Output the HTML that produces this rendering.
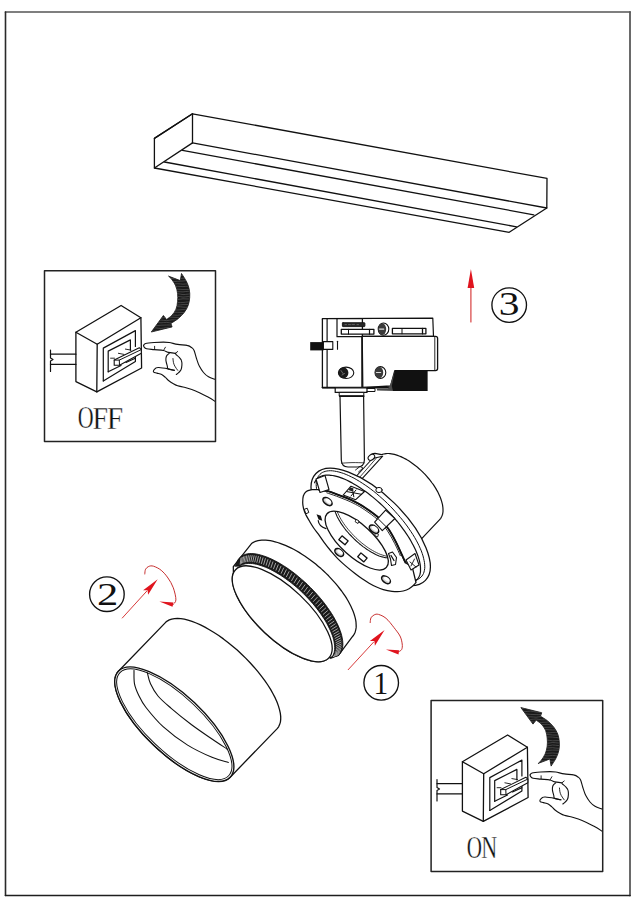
<!DOCTYPE html>
<html><head><meta charset="utf-8"><title>Installation diagram</title>
<style>html,body{margin:0;padding:0;background:#fff;}svg{display:block;}text{font-family:"Liberation Serif",serif;}</style>
</head><body>
<svg width="637" height="905" viewBox="0 0 637 905" stroke-linecap="round" stroke-linejoin="round">
<rect width="637" height="905" fill="#fff"/>
<path d="M5.5,12 H630" stroke="#555" stroke-width="1.7" fill="none"/>
<path d="M630,12 V895.5" stroke="#5a5a5a" stroke-width="1.8" fill="none"/>
<path d="M5.5,12 V895.5" stroke="#2a2a2a" stroke-width="1.6" fill="none"/>
<path d="M5.5,895.5 H630" stroke="#1e1e1e" stroke-width="1.6" fill="none"/>
<path d="M154.4,168.0 L154.4,138.4 L192.5,113.8 L547.0,178.4 L546.8,208.0 L509.2,232.3 L154.4,168.0" stroke="#111" stroke-width="1.3" fill="none" />
<path d="M154.4,138.4 L192.5,113.8" stroke="#111" stroke-width="1.3" fill="none" />
<path d="M192.5,113.8 L192.5,142.9" stroke="#111" stroke-width="1.3" fill="none" />
<path d="M154.4,168.0 L192.5,142.9" stroke="#111" stroke-width="1.3" fill="none" />
<path d="M192.5,142.9 L546.8,208.0" stroke="#111" stroke-width="1.3" fill="none" />
<path d="M182.5,150.4 L533.8,214.8" stroke="#111" stroke-width="1.3" fill="none" />
<path d="M164.5,162.0 L516.5,226.8" stroke="#111" stroke-width="1.3" fill="none" />
<g><path d="M75.9,332.2 L121.1,305.5 L140.9,317.7 L141.6,368.0 L96.8,391.9 L75.9,381.6Z" stroke="#111" stroke-width="1.3" fill="#fff"/><path d="M75.9,332.2 L97.2,344.2 L140.9,317.7" stroke="#111" stroke-width="1.3" fill="none"/><path d="M97.2,344.2 L96.8,391.9" stroke="#111" stroke-width="1.3" fill="none"/><path d="M103.3,380.9 L103.3,348.1 L135.4,330.6 L135.4,346.5" stroke="#111" stroke-width="1.2" fill="none"/><path d="M135.4,354.5 L135.4,361.6 L103.3,380.9" stroke="#111" stroke-width="1.2" fill="none"/><path d="M108.2,371.8 L108.2,351.1 L130.4,339.9 L130.4,350.3" stroke="#111" stroke-width="1.2" fill="none"/><path d="M108.2,371.8 L121.0,365.5" stroke="#111" stroke-width="1.2" fill="none"/><path d="M126.0,362.5 L135.3,358.2" stroke="#111" stroke-width="1.2" fill="none"/><path d="M114.2,360.1 L139.3,347.7 L141.3,349.6 L141.3,353.3 L119.5,365.3 L114.2,365.3Z" stroke="#111" stroke-width="1.1" fill="#fff"/><path d="M114.2,360.1 L119.3,360.1 L141.3,349.6" stroke="#111" stroke-width="1.0" fill="none"/><path d="M119.3,360.1 L119.5,365.3" stroke="#111" stroke-width="1.0" fill="none"/><path d="M110.6,358.2 L114.5,358.2" stroke="#111" stroke-width="0.9" fill="none"/><path d="M118.4,353.3 L124.0,354.4" stroke="#111" stroke-width="0.9" fill="none"/><path d="M125.4,349.1 L131.0,350.1" stroke="#111" stroke-width="0.9" fill="none"/><path d="M50.5,354.2 L75.9,354.2" stroke="#111" stroke-width="1.2" fill="none"/><path d="M50.5,364.4 L75.9,364.4" stroke="#111" stroke-width="1.2" fill="none"/><path d="M50.5,350.0 L50.5,358.0 L53.0,359.5 L50.5,361.0 L50.5,371.5" stroke="#111" stroke-width="1.2" fill="none"/><path d="M143.6,345.4 C143.9,345.1 143.8,344.0 145.6,343.5 C147.3,343.0 151.1,342.7 154.1,342.5 C157.1,342.3 161.0,342.1 163.5,342.1 C166.0,342.1 166.8,342.1 169.2,342.5 C171.6,342.9 174.7,343.9 177.7,344.4 C180.7,344.9 184.8,344.8 187.1,345.4 C189.4,345.9 190.6,346.8 191.8,347.7 C193.0,348.6 193.3,348.7 194.1,350.5 C194.9,352.3 195.6,355.9 196.5,358.5 C197.4,361.1 198.1,363.8 199.3,366.1 C200.5,368.4 202.0,370.7 203.5,372.5 C205.0,374.3 206.5,375.6 208.5,376.8 C210.5,378.0 214.2,379.1 215.4,379.6" stroke="#111" stroke-width="1.1" fill="none"/><path d="M143.6,345.4 C143.7,345.6 143.5,346.2 144.0,346.8 C144.5,347.4 144.9,348.2 146.6,348.7 C148.3,349.2 151.3,349.3 154.1,349.6 C156.9,349.9 161.2,350.0 163.5,350.5 C165.8,351.0 166.1,351.9 168.2,352.4 C170.2,352.9 174.5,353.2 175.8,353.4" stroke="#111" stroke-width="1.1" fill="none"/><path d="M154.6,346.3 L154.6,349.1" stroke="#111" stroke-width="0.9" fill="none"/><path d="M165.4,347.2 L163.5,350.5" stroke="#111" stroke-width="0.9" fill="none"/><path d="M177.7,351.5 L175.3,353.4" stroke="#111" stroke-width="0.9" fill="none"/><path d="M169.2,353.4 C168.7,353.9 166.9,355.0 166.4,356.2 C165.9,357.4 165.8,358.8 165.9,360.4 C166.1,362.0 166.9,364.7 167.3,366.1 C167.7,367.5 167.0,368.2 168.2,368.9 C169.4,369.6 173.4,370.1 174.4,370.3" stroke="#111" stroke-width="1.1" fill="none"/><path d="M175.8,354.3 C176.4,354.9 178.6,356.6 179.5,357.6 C180.4,358.6 181.0,359.1 181.4,360.4 C181.8,361.6 182.0,363.5 181.9,365.1 C181.8,366.7 181.6,368.5 181.0,369.8 C180.4,371.1 179.4,371.9 178.6,372.7 C177.8,373.5 176.7,374.2 176.3,374.5" stroke="#111" stroke-width="1.1" fill="none"/><path d="M173.0,358.5 C173.1,359.1 173.1,361.0 173.4,362.3 C173.7,363.6 174.1,364.8 174.8,366.1 C175.5,367.4 177.2,369.6 177.7,370.3" stroke="#111" stroke-width="0.9" fill="none"/><path d="M174.4,370.3 C173.4,370.1 170.8,369.4 168.2,368.9 C165.6,368.4 160.8,367.6 158.8,367.5 C156.8,367.4 156.8,367.5 156.0,368.0 C155.2,368.5 154.1,369.6 153.7,370.3 C153.3,371.0 153.1,371.7 153.7,372.2 C154.2,372.7 155.7,372.7 157.0,373.1 C158.3,373.5 160.3,373.8 161.7,374.5 C163.1,375.2 164.3,376.4 165.4,377.4 C166.5,378.3 166.9,379.2 168.2,380.2 C169.5,381.2 171.4,382.6 173.0,383.5 C174.6,384.4 175.8,385.2 177.7,385.8 C179.6,386.4 182.0,386.7 184.3,387.3 C186.7,387.9 189.2,388.7 191.8,389.6 C194.4,390.5 197.3,391.7 200.0,392.9 C202.7,394.1 205.4,395.6 208.0,397.0 C210.6,398.4 214.2,400.8 215.4,401.6" stroke="#111" stroke-width="1.1" fill="none"/></g>
<g transform="translate(386.5,429.5)"><path d="M75.9,332.2 L121.1,305.5 L140.9,317.7 L141.6,368.0 L96.8,391.9 L75.9,381.6Z" stroke="#111" stroke-width="1.3" fill="#fff"/><path d="M75.9,332.2 L97.2,344.2 L140.9,317.7" stroke="#111" stroke-width="1.3" fill="none"/><path d="M97.2,344.2 L96.8,391.9" stroke="#111" stroke-width="1.3" fill="none"/><path d="M103.3,380.9 L103.3,348.1 L135.4,330.6 L135.4,346.5" stroke="#111" stroke-width="1.2" fill="none"/><path d="M135.4,354.5 L135.4,361.6 L103.3,380.9" stroke="#111" stroke-width="1.2" fill="none"/><path d="M108.2,371.8 L108.2,351.1 L130.4,339.9 L130.4,350.3" stroke="#111" stroke-width="1.2" fill="none"/><path d="M108.2,371.8 L121.0,365.5" stroke="#111" stroke-width="1.2" fill="none"/><path d="M126.0,362.5 L135.3,358.2" stroke="#111" stroke-width="1.2" fill="none"/><path d="M114.2,360.1 L139.3,347.7 L141.3,349.6 L141.3,353.3 L119.5,365.3 L114.2,365.3Z" stroke="#111" stroke-width="1.1" fill="#fff"/><path d="M114.2,360.1 L119.3,360.1 L141.3,349.6" stroke="#111" stroke-width="1.0" fill="none"/><path d="M119.3,360.1 L119.5,365.3" stroke="#111" stroke-width="1.0" fill="none"/><path d="M110.6,358.2 L114.5,358.2" stroke="#111" stroke-width="0.9" fill="none"/><path d="M118.4,353.3 L124.0,354.4" stroke="#111" stroke-width="0.9" fill="none"/><path d="M125.4,349.1 L131.0,350.1" stroke="#111" stroke-width="0.9" fill="none"/><path d="M50.5,354.2 L75.9,354.2" stroke="#111" stroke-width="1.2" fill="none"/><path d="M50.5,364.4 L75.9,364.4" stroke="#111" stroke-width="1.2" fill="none"/><path d="M50.5,350.0 L50.5,358.0 L53.0,359.5 L50.5,361.0 L50.5,371.5" stroke="#111" stroke-width="1.2" fill="none"/><path d="M143.6,345.4 C143.9,345.1 143.8,344.0 145.6,343.5 C147.3,343.0 151.1,342.7 154.1,342.5 C157.1,342.3 161.0,342.1 163.5,342.1 C166.0,342.1 166.8,342.1 169.2,342.5 C171.6,342.9 174.7,343.9 177.7,344.4 C180.7,344.9 184.8,344.8 187.1,345.4 C189.4,345.9 190.6,346.8 191.8,347.7 C193.0,348.6 193.3,348.7 194.1,350.5 C194.9,352.3 195.6,355.9 196.5,358.5 C197.4,361.1 198.1,363.8 199.3,366.1 C200.5,368.4 202.0,370.7 203.5,372.5 C205.0,374.3 206.5,375.6 208.5,376.8 C210.5,378.0 214.2,379.1 215.4,379.6" stroke="#111" stroke-width="1.1" fill="none"/><path d="M143.6,345.4 C143.7,345.6 143.5,346.2 144.0,346.8 C144.5,347.4 144.9,348.2 146.6,348.7 C148.3,349.2 151.3,349.3 154.1,349.6 C156.9,349.9 161.2,350.0 163.5,350.5 C165.8,351.0 166.1,351.9 168.2,352.4 C170.2,352.9 174.5,353.2 175.8,353.4" stroke="#111" stroke-width="1.1" fill="none"/><path d="M154.6,346.3 L154.6,349.1" stroke="#111" stroke-width="0.9" fill="none"/><path d="M165.4,347.2 L163.5,350.5" stroke="#111" stroke-width="0.9" fill="none"/><path d="M177.7,351.5 L175.3,353.4" stroke="#111" stroke-width="0.9" fill="none"/><path d="M169.2,353.4 C168.7,353.9 166.9,355.0 166.4,356.2 C165.9,357.4 165.8,358.8 165.9,360.4 C166.1,362.0 166.9,364.7 167.3,366.1 C167.7,367.5 167.0,368.2 168.2,368.9 C169.4,369.6 173.4,370.1 174.4,370.3" stroke="#111" stroke-width="1.1" fill="none"/><path d="M175.8,354.3 C176.4,354.9 178.6,356.6 179.5,357.6 C180.4,358.6 181.0,359.1 181.4,360.4 C181.8,361.6 182.0,363.5 181.9,365.1 C181.8,366.7 181.6,368.5 181.0,369.8 C180.4,371.1 179.4,371.9 178.6,372.7 C177.8,373.5 176.7,374.2 176.3,374.5" stroke="#111" stroke-width="1.1" fill="none"/><path d="M173.0,358.5 C173.1,359.1 173.1,361.0 173.4,362.3 C173.7,363.6 174.1,364.8 174.8,366.1 C175.5,367.4 177.2,369.6 177.7,370.3" stroke="#111" stroke-width="0.9" fill="none"/><path d="M174.4,370.3 C173.4,370.1 170.8,369.4 168.2,368.9 C165.6,368.4 160.8,367.6 158.8,367.5 C156.8,367.4 156.8,367.5 156.0,368.0 C155.2,368.5 154.1,369.6 153.7,370.3 C153.3,371.0 153.1,371.7 153.7,372.2 C154.2,372.7 155.7,372.7 157.0,373.1 C158.3,373.5 160.3,373.8 161.7,374.5 C163.1,375.2 164.3,376.4 165.4,377.4 C166.5,378.3 166.9,379.2 168.2,380.2 C169.5,381.2 171.4,382.6 173.0,383.5 C174.6,384.4 175.8,385.2 177.7,385.8 C179.6,386.4 182.0,386.7 184.3,387.3 C186.7,387.9 189.2,388.7 191.8,389.6 C194.4,390.5 197.3,391.7 200.0,392.9 C202.7,394.1 205.4,395.6 208.0,397.0 C210.6,398.4 214.2,400.8 215.4,401.6" stroke="#111" stroke-width="1.1" fill="none"/></g>
<clipPath id="arrclip"><path d="M168.9,276.3 L180.3,280.6 L181.5,273.5 C182.3,274.9 185.3,279.1 186.6,281.8 C187.9,284.5 188.8,287.0 189.3,289.6 C189.8,292.2 189.9,294.9 189.7,297.5 C189.5,300.1 189.1,302.8 188.2,305.3 C187.3,307.8 185.9,310.2 184.2,312.4 C182.5,314.6 180.2,316.9 178.0,318.7 C175.8,320.5 172.1,322.6 170.9,323.4 L172.1,326.9 L151.3,332 L163.4,315.5 L166.6,319.5 C167.4,318.8 170.1,317.2 171.7,315.5 C173.3,313.8 175.0,311.6 176.0,309.2 C177.0,306.8 177.3,304.0 177.6,301.4 C177.9,298.8 177.9,296.1 177.6,293.5 C177.3,290.9 176.6,288.1 175.6,285.7 C174.6,283.3 172.8,281.0 171.7,279.4 C170.6,277.8 169.4,276.8 168.9,276.3Z"/></clipPath>
<g><path d="M168.9,276.3 L180.3,280.6 L181.5,273.5 C182.3,274.9 185.3,279.1 186.6,281.8 C187.9,284.5 188.8,287.0 189.3,289.6 C189.8,292.2 189.9,294.9 189.7,297.5 C189.5,300.1 189.1,302.8 188.2,305.3 C187.3,307.8 185.9,310.2 184.2,312.4 C182.5,314.6 180.2,316.9 178.0,318.7 C175.8,320.5 172.1,322.6 170.9,323.4 L172.1,326.9 L151.3,332 L163.4,315.5 L166.6,319.5 C167.4,318.8 170.1,317.2 171.7,315.5 C173.3,313.8 175.0,311.6 176.0,309.2 C177.0,306.8 177.3,304.0 177.6,301.4 C177.9,298.8 177.9,296.1 177.6,293.5 C177.3,290.9 176.6,288.1 175.6,285.7 C174.6,283.3 172.8,281.0 171.7,279.4 C170.6,277.8 169.4,276.8 168.9,276.3Z" fill="#1a1a1a" stroke="#111" stroke-width="0.8"/><g clip-path="url(#arrclip)"><path d="M150.0,275.7 C150.9,275.7 153.7,276.0 155.5,276.1 C157.3,276.1 159.2,275.8 161.0,275.8 C162.8,275.9 164.7,276.1 166.5,276.1 C168.3,276.2 170.2,276.3 172.0,276.2 C173.8,276.0 175.7,275.6 177.5,275.5 C179.3,275.4 181.2,275.3 183.0,275.4 C184.8,275.6 186.7,276.4 188.5,276.4 C190.3,276.5 193.1,275.8 194.0,275.7" stroke="#6a6a6a" stroke-width="0.55" fill="none"/><path d="M150.0,278.3 C150.9,278.4 153.7,279.1 155.5,279.2 C157.3,279.2 159.2,278.6 161.0,278.6 C162.8,278.5 164.7,279.0 166.5,279.0 C168.3,279.0 170.2,278.6 172.0,278.6 C173.8,278.5 175.7,278.8 177.5,278.8 C179.3,278.7 181.2,278.2 183.0,278.2 C184.8,278.2 186.7,278.6 188.5,278.8 C190.3,278.9 193.1,279.0 194.0,279.0" stroke="#6a6a6a" stroke-width="0.55" fill="none"/><path d="M150.0,281.2 C150.9,281.3 153.7,281.5 155.5,281.5 C157.3,281.5 159.2,281.5 161.0,281.4 C162.8,281.3 164.7,280.7 166.5,280.7 C168.3,280.7 170.2,281.4 172.0,281.5 C173.8,281.6 175.7,281.4 177.5,281.3 C179.3,281.2 181.2,281.1 183.0,281.0 C184.8,280.8 186.7,280.5 188.5,280.6 C190.3,280.8 193.1,281.5 194.0,281.6" stroke="#6a6a6a" stroke-width="0.55" fill="none"/><path d="M150.0,283.8 C150.9,283.8 153.7,284.0 155.5,284.1 C157.3,284.1 159.2,284.3 161.0,284.3 C162.8,284.3 164.7,284.0 166.5,284.1 C168.3,284.1 170.2,284.4 172.0,284.3 C173.8,284.2 175.7,283.7 177.5,283.7 C179.3,283.6 181.2,284.2 183.0,284.2 C184.8,284.2 186.7,283.7 188.5,283.7 C190.3,283.8 193.1,284.2 194.0,284.3" stroke="#6a6a6a" stroke-width="0.55" fill="none"/><path d="M150.0,286.9 C150.9,286.7 153.7,286.1 155.5,285.9 C157.3,285.8 159.2,285.9 161.0,286.0 C162.8,286.0 164.7,285.9 166.5,286.1 C168.3,286.2 170.2,286.9 172.0,287.0 C173.8,287.0 175.7,286.4 177.5,286.3 C179.3,286.3 181.2,286.6 183.0,286.6 C184.8,286.5 186.7,286.2 188.5,286.2 C190.3,286.1 193.1,286.4 194.0,286.4" stroke="#6a6a6a" stroke-width="0.55" fill="none"/><path d="M150.0,288.9 C150.9,288.9 153.7,288.8 155.5,288.8 C157.3,288.9 159.2,289.1 161.0,289.1 C162.8,289.1 164.7,289.0 166.5,289.1 C168.3,289.2 170.2,289.5 172.0,289.5 C173.8,289.5 175.7,289.2 177.5,289.2 C179.3,289.2 181.2,289.5 183.0,289.5 C184.8,289.5 186.7,289.4 188.5,289.4 C190.3,289.4 193.1,289.6 194.0,289.6" stroke="#6a6a6a" stroke-width="0.55" fill="none"/><path d="M150.0,291.8 C150.9,291.7 153.7,291.2 155.5,291.2 C157.3,291.2 159.2,291.9 161.0,292.0 C162.8,292.2 164.7,292.1 166.5,292.2 C168.3,292.2 170.2,292.2 172.0,292.1 C173.8,292.0 175.7,291.7 177.5,291.7 C179.3,291.6 181.2,291.9 183.0,291.9 C184.8,291.8 186.7,291.2 188.5,291.3 C190.3,291.3 193.1,291.9 194.0,292.0" stroke="#6a6a6a" stroke-width="0.55" fill="none"/><path d="M150.0,294.3 C150.9,294.2 153.7,294.0 155.5,293.9 C157.3,293.8 159.2,293.6 161.0,293.7 C162.8,293.8 164.7,294.4 166.5,294.6 C168.3,294.8 170.2,294.9 172.0,294.8 C173.8,294.6 175.7,293.7 177.5,293.7 C179.3,293.7 181.2,294.5 183.0,294.6 C184.8,294.6 186.7,294.2 188.5,294.1 C190.3,294.0 193.1,293.8 194.0,293.8" stroke="#6a6a6a" stroke-width="0.55" fill="none"/><path d="M150.0,296.6 C150.9,296.6 153.7,297.0 155.5,297.1 C157.3,297.2 159.2,297.4 161.0,297.2 C162.8,297.1 164.7,296.3 166.5,296.3 C168.3,296.2 170.2,296.9 172.0,296.9 C173.8,296.9 175.7,296.2 177.5,296.3 C179.3,296.3 181.2,297.0 183.0,297.1 C184.8,297.1 186.7,296.6 188.5,296.6 C190.3,296.6 193.1,297.1 194.0,297.3" stroke="#6a6a6a" stroke-width="0.55" fill="none"/><path d="M150.0,300.0 C150.9,299.9 153.7,299.4 155.5,299.4 C157.3,299.4 159.2,300.0 161.0,300.0 C162.8,300.0 164.7,299.4 166.5,299.2 C168.3,299.0 170.2,298.8 172.0,298.9 C173.8,299.0 175.7,299.5 177.5,299.5 C179.3,299.5 181.2,298.9 183.0,298.8 C184.8,298.8 186.7,299.0 188.5,299.0 C190.3,299.1 193.1,299.2 194.0,299.3" stroke="#6a6a6a" stroke-width="0.55" fill="none"/><path d="M150.0,302.1 C150.9,302.0 153.7,301.7 155.5,301.6 C157.3,301.5 159.2,301.3 161.0,301.5 C162.8,301.6 164.7,302.4 166.5,302.4 C168.3,302.5 170.2,301.8 172.0,301.8 C173.8,301.8 175.7,302.4 177.5,302.6 C179.3,302.7 181.2,302.6 183.0,302.5 C184.8,302.4 186.7,301.9 188.5,301.9 C190.3,301.8 193.1,301.9 194.0,302.0" stroke="#6a6a6a" stroke-width="0.55" fill="none"/><path d="M150.0,304.6 C150.9,304.6 153.7,304.8 155.5,304.8 C157.3,304.8 159.2,304.7 161.0,304.7 C162.8,304.7 164.7,304.7 166.5,304.7 C168.3,304.7 170.2,304.7 172.0,304.7 C173.8,304.8 175.7,305.2 177.5,305.1 C179.3,305.1 181.2,304.7 183.0,304.6 C184.8,304.5 186.7,304.5 188.5,304.5 C190.3,304.6 193.1,304.8 194.0,304.9" stroke="#6a6a6a" stroke-width="0.55" fill="none"/><path d="M150.0,306.9 C150.9,306.9 153.7,306.8 155.5,307.0 C157.3,307.1 159.2,307.7 161.0,307.8 C162.8,307.8 164.7,307.3 166.5,307.2 C168.3,307.1 170.2,307.4 172.0,307.3 C173.8,307.2 175.7,306.6 177.5,306.6 C179.3,306.6 181.2,307.0 183.0,307.1 C184.8,307.2 186.7,307.4 188.5,307.3 C190.3,307.2 193.1,306.7 194.0,306.6" stroke="#6a6a6a" stroke-width="0.55" fill="none"/><path d="M150.0,309.9 C150.9,309.9 153.7,310.1 155.5,310.0 C157.3,309.8 159.2,309.3 161.0,309.3 C162.8,309.3 164.7,309.9 166.5,310.0 C168.3,310.0 170.2,309.7 172.0,309.8 C173.8,309.8 175.7,310.0 177.5,310.0 C179.3,310.0 181.2,309.6 183.0,309.6 C184.8,309.6 186.7,310.0 188.5,310.0 C190.3,310.1 193.1,310.1 194.0,310.1" stroke="#6a6a6a" stroke-width="0.55" fill="none"/><path d="M150.0,311.8 C150.9,311.8 153.7,311.7 155.5,311.9 C157.3,312.0 159.2,312.4 161.0,312.6 C162.8,312.8 164.7,313.0 166.5,313.0 C168.3,312.9 170.2,312.2 172.0,312.1 C173.8,312.0 175.7,312.3 177.5,312.3 C179.3,312.4 181.2,312.5 183.0,312.5 C184.8,312.5 186.7,312.2 188.5,312.2 C190.3,312.1 193.1,312.2 194.0,312.2" stroke="#6a6a6a" stroke-width="0.55" fill="none"/><path d="M150.0,314.8 C150.9,314.8 153.7,314.8 155.5,314.8 C157.3,314.9 159.2,315.1 161.0,315.1 C162.8,315.1 164.7,314.8 166.5,314.8 C168.3,314.7 170.2,314.8 172.0,314.9 C173.8,314.9 175.7,315.4 177.5,315.3 C179.3,315.3 181.2,314.5 183.0,314.4 C184.8,314.4 186.7,314.9 188.5,315.1 C190.3,315.2 193.1,315.2 194.0,315.3" stroke="#6a6a6a" stroke-width="0.55" fill="none"/><path d="M150.0,317.4 C150.9,317.4 153.7,317.2 155.5,317.3 C157.3,317.4 159.2,318.0 161.0,318.0 C162.8,318.0 164.7,317.4 166.5,317.3 C168.3,317.2 170.2,317.2 172.0,317.2 C173.8,317.3 175.7,317.4 177.5,317.5 C179.3,317.6 181.2,317.9 183.0,317.8 C184.8,317.8 186.7,317.2 188.5,317.1 C190.3,317.0 193.1,317.3 194.0,317.4" stroke="#6a6a6a" stroke-width="0.55" fill="none"/><path d="M150.0,320.0 C150.9,320.1 153.7,320.6 155.5,320.6 C157.3,320.6 159.2,320.1 161.0,320.1 C162.8,320.1 164.7,320.7 166.5,320.6 C168.3,320.6 170.2,319.9 172.0,319.8 C173.8,319.7 175.7,319.9 177.5,320.0 C179.3,320.1 181.2,320.3 183.0,320.4 C184.8,320.5 186.7,320.7 188.5,320.7 C190.3,320.6 193.1,320.2 194.0,320.1" stroke="#6a6a6a" stroke-width="0.55" fill="none"/><path d="M150.0,322.5 C150.9,322.4 153.7,322.3 155.5,322.3 C157.3,322.4 159.2,322.8 161.0,322.8 C162.8,322.8 164.7,322.4 166.5,322.4 C168.3,322.5 170.2,323.0 172.0,323.2 C173.8,323.3 175.7,323.3 177.5,323.2 C179.3,323.1 181.2,322.5 183.0,322.4 C184.8,322.3 186.7,322.4 188.5,322.5 C190.3,322.7 193.1,323.1 194.0,323.2" stroke="#6a6a6a" stroke-width="0.55" fill="none"/><path d="M150.0,325.6 C150.9,325.6 153.7,325.8 155.5,325.8 C157.3,325.7 159.2,325.3 161.0,325.2 C162.8,325.1 164.7,325.0 166.5,325.0 C168.3,324.9 170.2,325.0 172.0,325.2 C173.8,325.3 175.7,325.8 177.5,325.8 C179.3,325.7 181.2,325.2 183.0,325.1 C184.8,325.0 186.7,325.2 188.5,325.2 C190.3,325.2 193.1,325.3 194.0,325.3" stroke="#6a6a6a" stroke-width="0.55" fill="none"/><path d="M150.0,327.9 C150.9,327.9 153.7,327.8 155.5,327.9 C157.3,328.0 159.2,328.6 161.0,328.5 C162.8,328.5 164.7,327.8 166.5,327.6 C168.3,327.4 170.2,327.2 172.0,327.4 C173.8,327.6 175.7,328.4 177.5,328.5 C179.3,328.7 181.2,328.4 183.0,328.5 C184.8,328.5 186.7,328.7 188.5,328.6 C190.3,328.5 193.1,328.0 194.0,327.9" stroke="#6a6a6a" stroke-width="0.55" fill="none"/><path d="M150.0,331.1 C150.9,331.1 153.7,331.3 155.5,331.1 C157.3,331.0 159.2,330.3 161.0,330.3 C162.8,330.2 164.7,330.8 166.5,330.9 C168.3,331.0 170.2,331.0 172.0,331.0 C173.8,331.0 175.7,330.9 177.5,330.8 C179.3,330.7 181.2,330.7 183.0,330.6 C184.8,330.5 186.7,330.4 188.5,330.3 C190.3,330.3 193.1,330.4 194.0,330.4" stroke="#6a6a6a" stroke-width="0.55" fill="none"/></g></g>
<g transform="translate(369.6,1039.6) scale(1,-1)"><path d="M168.9,276.3 L180.3,280.6 L181.5,273.5 C182.3,274.9 185.3,279.1 186.6,281.8 C187.9,284.5 188.8,287.0 189.3,289.6 C189.8,292.2 189.9,294.9 189.7,297.5 C189.5,300.1 189.1,302.8 188.2,305.3 C187.3,307.8 185.9,310.2 184.2,312.4 C182.5,314.6 180.2,316.9 178.0,318.7 C175.8,320.5 172.1,322.6 170.9,323.4 L172.1,326.9 L151.3,332 L163.4,315.5 L166.6,319.5 C167.4,318.8 170.1,317.2 171.7,315.5 C173.3,313.8 175.0,311.6 176.0,309.2 C177.0,306.8 177.3,304.0 177.6,301.4 C177.9,298.8 177.9,296.1 177.6,293.5 C177.3,290.9 176.6,288.1 175.6,285.7 C174.6,283.3 172.8,281.0 171.7,279.4 C170.6,277.8 169.4,276.8 168.9,276.3Z" fill="#1a1a1a" stroke="#111" stroke-width="0.8"/><g clip-path="url(#arrclip)"><path d="M150.0,275.7 C150.9,275.7 153.7,276.0 155.5,276.1 C157.3,276.1 159.2,275.8 161.0,275.8 C162.8,275.9 164.7,276.1 166.5,276.1 C168.3,276.2 170.2,276.3 172.0,276.2 C173.8,276.0 175.7,275.6 177.5,275.5 C179.3,275.4 181.2,275.3 183.0,275.4 C184.8,275.6 186.7,276.4 188.5,276.4 C190.3,276.5 193.1,275.8 194.0,275.7" stroke="#6a6a6a" stroke-width="0.55" fill="none"/><path d="M150.0,278.3 C150.9,278.4 153.7,279.1 155.5,279.2 C157.3,279.2 159.2,278.6 161.0,278.6 C162.8,278.5 164.7,279.0 166.5,279.0 C168.3,279.0 170.2,278.6 172.0,278.6 C173.8,278.5 175.7,278.8 177.5,278.8 C179.3,278.7 181.2,278.2 183.0,278.2 C184.8,278.2 186.7,278.6 188.5,278.8 C190.3,278.9 193.1,279.0 194.0,279.0" stroke="#6a6a6a" stroke-width="0.55" fill="none"/><path d="M150.0,281.2 C150.9,281.3 153.7,281.5 155.5,281.5 C157.3,281.5 159.2,281.5 161.0,281.4 C162.8,281.3 164.7,280.7 166.5,280.7 C168.3,280.7 170.2,281.4 172.0,281.5 C173.8,281.6 175.7,281.4 177.5,281.3 C179.3,281.2 181.2,281.1 183.0,281.0 C184.8,280.8 186.7,280.5 188.5,280.6 C190.3,280.8 193.1,281.5 194.0,281.6" stroke="#6a6a6a" stroke-width="0.55" fill="none"/><path d="M150.0,283.8 C150.9,283.8 153.7,284.0 155.5,284.1 C157.3,284.1 159.2,284.3 161.0,284.3 C162.8,284.3 164.7,284.0 166.5,284.1 C168.3,284.1 170.2,284.4 172.0,284.3 C173.8,284.2 175.7,283.7 177.5,283.7 C179.3,283.6 181.2,284.2 183.0,284.2 C184.8,284.2 186.7,283.7 188.5,283.7 C190.3,283.8 193.1,284.2 194.0,284.3" stroke="#6a6a6a" stroke-width="0.55" fill="none"/><path d="M150.0,286.9 C150.9,286.7 153.7,286.1 155.5,285.9 C157.3,285.8 159.2,285.9 161.0,286.0 C162.8,286.0 164.7,285.9 166.5,286.1 C168.3,286.2 170.2,286.9 172.0,287.0 C173.8,287.0 175.7,286.4 177.5,286.3 C179.3,286.3 181.2,286.6 183.0,286.6 C184.8,286.5 186.7,286.2 188.5,286.2 C190.3,286.1 193.1,286.4 194.0,286.4" stroke="#6a6a6a" stroke-width="0.55" fill="none"/><path d="M150.0,288.9 C150.9,288.9 153.7,288.8 155.5,288.8 C157.3,288.9 159.2,289.1 161.0,289.1 C162.8,289.1 164.7,289.0 166.5,289.1 C168.3,289.2 170.2,289.5 172.0,289.5 C173.8,289.5 175.7,289.2 177.5,289.2 C179.3,289.2 181.2,289.5 183.0,289.5 C184.8,289.5 186.7,289.4 188.5,289.4 C190.3,289.4 193.1,289.6 194.0,289.6" stroke="#6a6a6a" stroke-width="0.55" fill="none"/><path d="M150.0,291.8 C150.9,291.7 153.7,291.2 155.5,291.2 C157.3,291.2 159.2,291.9 161.0,292.0 C162.8,292.2 164.7,292.1 166.5,292.2 C168.3,292.2 170.2,292.2 172.0,292.1 C173.8,292.0 175.7,291.7 177.5,291.7 C179.3,291.6 181.2,291.9 183.0,291.9 C184.8,291.8 186.7,291.2 188.5,291.3 C190.3,291.3 193.1,291.9 194.0,292.0" stroke="#6a6a6a" stroke-width="0.55" fill="none"/><path d="M150.0,294.3 C150.9,294.2 153.7,294.0 155.5,293.9 C157.3,293.8 159.2,293.6 161.0,293.7 C162.8,293.8 164.7,294.4 166.5,294.6 C168.3,294.8 170.2,294.9 172.0,294.8 C173.8,294.6 175.7,293.7 177.5,293.7 C179.3,293.7 181.2,294.5 183.0,294.6 C184.8,294.6 186.7,294.2 188.5,294.1 C190.3,294.0 193.1,293.8 194.0,293.8" stroke="#6a6a6a" stroke-width="0.55" fill="none"/><path d="M150.0,296.6 C150.9,296.6 153.7,297.0 155.5,297.1 C157.3,297.2 159.2,297.4 161.0,297.2 C162.8,297.1 164.7,296.3 166.5,296.3 C168.3,296.2 170.2,296.9 172.0,296.9 C173.8,296.9 175.7,296.2 177.5,296.3 C179.3,296.3 181.2,297.0 183.0,297.1 C184.8,297.1 186.7,296.6 188.5,296.6 C190.3,296.6 193.1,297.1 194.0,297.3" stroke="#6a6a6a" stroke-width="0.55" fill="none"/><path d="M150.0,300.0 C150.9,299.9 153.7,299.4 155.5,299.4 C157.3,299.4 159.2,300.0 161.0,300.0 C162.8,300.0 164.7,299.4 166.5,299.2 C168.3,299.0 170.2,298.8 172.0,298.9 C173.8,299.0 175.7,299.5 177.5,299.5 C179.3,299.5 181.2,298.9 183.0,298.8 C184.8,298.8 186.7,299.0 188.5,299.0 C190.3,299.1 193.1,299.2 194.0,299.3" stroke="#6a6a6a" stroke-width="0.55" fill="none"/><path d="M150.0,302.1 C150.9,302.0 153.7,301.7 155.5,301.6 C157.3,301.5 159.2,301.3 161.0,301.5 C162.8,301.6 164.7,302.4 166.5,302.4 C168.3,302.5 170.2,301.8 172.0,301.8 C173.8,301.8 175.7,302.4 177.5,302.6 C179.3,302.7 181.2,302.6 183.0,302.5 C184.8,302.4 186.7,301.9 188.5,301.9 C190.3,301.8 193.1,301.9 194.0,302.0" stroke="#6a6a6a" stroke-width="0.55" fill="none"/><path d="M150.0,304.6 C150.9,304.6 153.7,304.8 155.5,304.8 C157.3,304.8 159.2,304.7 161.0,304.7 C162.8,304.7 164.7,304.7 166.5,304.7 C168.3,304.7 170.2,304.7 172.0,304.7 C173.8,304.8 175.7,305.2 177.5,305.1 C179.3,305.1 181.2,304.7 183.0,304.6 C184.8,304.5 186.7,304.5 188.5,304.5 C190.3,304.6 193.1,304.8 194.0,304.9" stroke="#6a6a6a" stroke-width="0.55" fill="none"/><path d="M150.0,306.9 C150.9,306.9 153.7,306.8 155.5,307.0 C157.3,307.1 159.2,307.7 161.0,307.8 C162.8,307.8 164.7,307.3 166.5,307.2 C168.3,307.1 170.2,307.4 172.0,307.3 C173.8,307.2 175.7,306.6 177.5,306.6 C179.3,306.6 181.2,307.0 183.0,307.1 C184.8,307.2 186.7,307.4 188.5,307.3 C190.3,307.2 193.1,306.7 194.0,306.6" stroke="#6a6a6a" stroke-width="0.55" fill="none"/><path d="M150.0,309.9 C150.9,309.9 153.7,310.1 155.5,310.0 C157.3,309.8 159.2,309.3 161.0,309.3 C162.8,309.3 164.7,309.9 166.5,310.0 C168.3,310.0 170.2,309.7 172.0,309.8 C173.8,309.8 175.7,310.0 177.5,310.0 C179.3,310.0 181.2,309.6 183.0,309.6 C184.8,309.6 186.7,310.0 188.5,310.0 C190.3,310.1 193.1,310.1 194.0,310.1" stroke="#6a6a6a" stroke-width="0.55" fill="none"/><path d="M150.0,311.8 C150.9,311.8 153.7,311.7 155.5,311.9 C157.3,312.0 159.2,312.4 161.0,312.6 C162.8,312.8 164.7,313.0 166.5,313.0 C168.3,312.9 170.2,312.2 172.0,312.1 C173.8,312.0 175.7,312.3 177.5,312.3 C179.3,312.4 181.2,312.5 183.0,312.5 C184.8,312.5 186.7,312.2 188.5,312.2 C190.3,312.1 193.1,312.2 194.0,312.2" stroke="#6a6a6a" stroke-width="0.55" fill="none"/><path d="M150.0,314.8 C150.9,314.8 153.7,314.8 155.5,314.8 C157.3,314.9 159.2,315.1 161.0,315.1 C162.8,315.1 164.7,314.8 166.5,314.8 C168.3,314.7 170.2,314.8 172.0,314.9 C173.8,314.9 175.7,315.4 177.5,315.3 C179.3,315.3 181.2,314.5 183.0,314.4 C184.8,314.4 186.7,314.9 188.5,315.1 C190.3,315.2 193.1,315.2 194.0,315.3" stroke="#6a6a6a" stroke-width="0.55" fill="none"/><path d="M150.0,317.4 C150.9,317.4 153.7,317.2 155.5,317.3 C157.3,317.4 159.2,318.0 161.0,318.0 C162.8,318.0 164.7,317.4 166.5,317.3 C168.3,317.2 170.2,317.2 172.0,317.2 C173.8,317.3 175.7,317.4 177.5,317.5 C179.3,317.6 181.2,317.9 183.0,317.8 C184.8,317.8 186.7,317.2 188.5,317.1 C190.3,317.0 193.1,317.3 194.0,317.4" stroke="#6a6a6a" stroke-width="0.55" fill="none"/><path d="M150.0,320.0 C150.9,320.1 153.7,320.6 155.5,320.6 C157.3,320.6 159.2,320.1 161.0,320.1 C162.8,320.1 164.7,320.7 166.5,320.6 C168.3,320.6 170.2,319.9 172.0,319.8 C173.8,319.7 175.7,319.9 177.5,320.0 C179.3,320.1 181.2,320.3 183.0,320.4 C184.8,320.5 186.7,320.7 188.5,320.7 C190.3,320.6 193.1,320.2 194.0,320.1" stroke="#6a6a6a" stroke-width="0.55" fill="none"/><path d="M150.0,322.5 C150.9,322.4 153.7,322.3 155.5,322.3 C157.3,322.4 159.2,322.8 161.0,322.8 C162.8,322.8 164.7,322.4 166.5,322.4 C168.3,322.5 170.2,323.0 172.0,323.2 C173.8,323.3 175.7,323.3 177.5,323.2 C179.3,323.1 181.2,322.5 183.0,322.4 C184.8,322.3 186.7,322.4 188.5,322.5 C190.3,322.7 193.1,323.1 194.0,323.2" stroke="#6a6a6a" stroke-width="0.55" fill="none"/><path d="M150.0,325.6 C150.9,325.6 153.7,325.8 155.5,325.8 C157.3,325.7 159.2,325.3 161.0,325.2 C162.8,325.1 164.7,325.0 166.5,325.0 C168.3,324.9 170.2,325.0 172.0,325.2 C173.8,325.3 175.7,325.8 177.5,325.8 C179.3,325.7 181.2,325.2 183.0,325.1 C184.8,325.0 186.7,325.2 188.5,325.2 C190.3,325.2 193.1,325.3 194.0,325.3" stroke="#6a6a6a" stroke-width="0.55" fill="none"/><path d="M150.0,327.9 C150.9,327.9 153.7,327.8 155.5,327.9 C157.3,328.0 159.2,328.6 161.0,328.5 C162.8,328.5 164.7,327.8 166.5,327.6 C168.3,327.4 170.2,327.2 172.0,327.4 C173.8,327.6 175.7,328.4 177.5,328.5 C179.3,328.7 181.2,328.4 183.0,328.5 C184.8,328.5 186.7,328.7 188.5,328.6 C190.3,328.5 193.1,328.0 194.0,327.9" stroke="#6a6a6a" stroke-width="0.55" fill="none"/><path d="M150.0,331.1 C150.9,331.1 153.7,331.3 155.5,331.1 C157.3,331.0 159.2,330.3 161.0,330.3 C162.8,330.2 164.7,330.8 166.5,330.9 C168.3,331.0 170.2,331.0 172.0,331.0 C173.8,331.0 175.7,330.9 177.5,330.8 C179.3,330.7 181.2,330.7 183.0,330.6 C184.8,330.5 186.7,330.4 188.5,330.3 C190.3,330.3 193.1,330.4 194.0,330.4" stroke="#6a6a6a" stroke-width="0.55" fill="none"/></g></g>
<rect x="44.5" y="270.7" width="171" height="170.8" fill="none" stroke="#222" stroke-width="1.5"/>
<rect x="431.1" y="700.4" width="171.6" height="171.1" fill="none" stroke="#222" stroke-width="1.5"/>
<text x="0" y="0" transform="translate(77.72,428.47) scale(0.2203,0.3149)" font-family="Liberation Serif" font-size="100" fill="#111" stroke="#fff" stroke-width="1.0">O</text>
<text x="0" y="0" transform="translate(92.46,428.90) scale(0.2796,0.3200)" font-family="Liberation Serif" font-size="100" fill="#111" stroke="#fff" stroke-width="1.0">F</text>
<text x="0" y="0" transform="translate(106.71,428.90) scale(0.2959,0.3200)" font-family="Liberation Serif" font-size="100" fill="#111" stroke="#fff" stroke-width="1.0">F</text>
<text x="0" y="0" transform="translate(466.86,857.78) scale(0.2109,0.3090)" font-family="Liberation Serif" font-size="100" fill="#111" stroke="#fff" stroke-width="1.0">O</text>
<text x="0" y="0" transform="translate(481.14,858.10) scale(0.2209,0.3138)" font-family="Liberation Serif" font-size="100" fill="#111" stroke="#fff" stroke-width="1.0">N</text>
<line x1="470.9" y1="322" x2="470.9" y2="286" stroke="#d84040" stroke-width="1.2"/>
<path d="M470.9,269.1 L474.2,288 L467.6,288Z" fill="#e0141e"/>
<circle cx="509.2" cy="305.1" r="17.3" fill="none" stroke="#111" stroke-width="1.35"/>
<text x="0" y="0" transform="translate(498.63,315.47) scale(0.4146,0.3288)" font-family="Liberation Serif" font-size="100" fill="#111">3</text>
<circle cx="106.9" cy="594.2" r="17.3" fill="none" stroke="#111" stroke-width="1.35"/>
<text x="0" y="0" transform="translate(97.00,604.60) scale(0.4250,0.3246)" font-family="Liberation Serif" font-size="100" fill="#111">2</text>
<circle cx="381.2" cy="682.8" r="17.3" fill="none" stroke="#111" stroke-width="1.35"/>
<text x="0" y="0" transform="translate(373.55,693.80) scale(0.2943,0.3242)" font-family="Liberation Serif" font-size="100" fill="#111">1</text>
<line x1="122.3" y1="618.0" x2="146.9" y2="591.0" stroke="#d83a3a" stroke-width="1.0"/>
<path d="M157.7,579.2 L148.1,594.8 L147.6,590.3 L143.1,590.2 Z" fill="#e0141e"/>
<line x1="348.2" y1="669.7" x2="373.8" y2="641.9" stroke="#d83a3a" stroke-width="1.0"/>
<path d="M384.6,630.1 L374.9,645.7 L374.4,641.1 L369.9,641.1 Z" fill="#e0141e"/>
<path d="M144.8,574.0 C144.9,573.2 144.9,570.5 145.6,569.2 C146.3,567.9 147.5,566.9 148.8,566.4 C150.1,565.9 151.4,565.6 153.5,566.2 C155.6,566.9 158.8,568.3 161.2,570.3 C163.6,572.3 166.0,575.1 168.0,578.0 C170.0,580.9 172.0,584.1 173.3,587.8 C174.6,591.4 176.0,597.1 175.9,599.9 C175.8,602.7 173.5,603.7 173.0,604.5" fill="none" stroke="#c83030" stroke-width="1.0"/>
<path d="M159.4,601.6 L173.5,602.6 L172.5,606.8 Z" fill="#e0141e"/>
<path d="M370.2,622.6 C370.3,621.8 370.3,619.1 371.0,617.8 C371.7,616.5 372.9,615.5 374.2,614.9 C375.4,614.3 376.5,613.8 378.5,614.4 C380.5,615.0 383.4,616.1 386.0,618.3 C388.6,620.5 391.7,624.6 394.0,627.6 C396.3,630.6 398.6,633.3 400.0,636.0 C401.4,638.7 401.9,641.7 402.2,644.0 C402.5,646.3 402.3,648.3 401.6,649.6 C400.9,650.9 398.6,651.6 398.0,652.0" fill="none" stroke="#c83030" stroke-width="1.0"/>
<path d="M385.9,649.6 L399.0,650.3 L398.5,654.6 Z" fill="#e0141e"/>
<path d="M322.4,319.5 Q322.4,318.6 323.5,318.6 L432.8,318.2 L433.5,336.4 L362,336.4" fill="#fff" stroke="#111" stroke-width="1.2"/>
<rect x="322.4" y="318.6" width="40" height="69" fill="#fff" stroke="#111" stroke-width="1.3"/>
<path d="M327.1,318.6 L327.1,341.4" stroke="#111" stroke-width="1.2" fill="none" />
<path d="M327.1,349.6 L327.1,387.6" stroke="#111" stroke-width="1.2" fill="none" />
<path d="M337.0,318.6 L337.0,336.7 L362.0,336.7" stroke="#111" stroke-width="1.2" fill="none" />
<path d="M337.5,341.2 L337.5,349.2" stroke="#111" stroke-width="1.1" fill="none" />
<path d="M362,336.4 L435.5,336.4 Q437.6,336.4 437.6,338.5 L437.6,368.5 Q437.6,370.6 435.5,370.6 L394.8,370.6 L390.6,386 L362,387.6 Z" fill="#fff" stroke="#111" stroke-width="1.3"/>
<path d="M434.8,337.0 L434.8,370.0" stroke="#111" stroke-width="0.9" fill="none" />
<path d="M362.2,336.4 L362.8,387.6" stroke="#111" stroke-width="1.3" fill="none" />
<path d="M322.4,387.6 L390.6,387.6" stroke="#111" stroke-width="1.6" fill="none" />
<path d="M394.8,370.4 L390.2,385 L388,388.5 L377,388.5 L377,390.6 L395,391 Z" fill="#4a4a4a"/>
<path d="M394.8,370.4 L427.6,370.4 L427.6,391.1 L393,391 L391.8,386 Z" fill="#111"/>
<rect x="310.2" y="342.1" width="13.4" height="8.3" fill="#111"/>
<rect x="323.4" y="341.6" width="9.4" height="7.8" fill="#fff" stroke="#111" stroke-width="1.1"/>
<rect x="342.4" y="322.7" width="22.5" height="3.9" rx="0.6" fill="#262626" stroke="#111" stroke-width="0.9"/>
<path d="M345,324.6 h1.5 M348.5,324.6 h2 M352,324.4 h2.5 M357,324.6 h1.5" stroke="#8a8a8a" stroke-width="0.6"/>
<rect x="341.3" y="329.3" width="32.6" height="4.8" fill="#fff" stroke="#111" stroke-width="1.3"/>
<path d="M348.5,329.3 L348.5,334.1" stroke="#111" stroke-width="1.0" fill="none" />
<path d="M369.5,329.3 L369.5,334.1" stroke="#111" stroke-width="1.2" fill="none" />
<rect x="392.4" y="328.4" width="33.5" height="5.4" fill="#fff" stroke="#111" stroke-width="1.3"/>
<path d="M402.0,328.4 L402.0,333.8" stroke="#111" stroke-width="1.0" fill="none" />
<path d="M422.5,328.4 L422.5,333.8" stroke="#111" stroke-width="1.3" fill="none" />
<ellipse cx="346.1" cy="372.8" rx="7.7" ry="5.7" fill="#fff" stroke="#111" stroke-width="1.1"/>
<ellipse cx="343.4" cy="372.8" rx="5.0" ry="5.5" fill="#1a1a1a"/>
<path d="M341,370.5 l2,3 M342,375 l2.5,-1.5" stroke="#888" stroke-width="0.7"/>
<ellipse cx="380.4" cy="372.5" rx="5.4" ry="5.9" fill="#fff" stroke="#111" stroke-width="1.1"/>
<ellipse cx="379.1" cy="372.5" rx="4.1" ry="5.7" fill="#3a3a3a"/>
<line x1="376.4" y1="372.5" x2="380.7" y2="372.5" stroke="#ddd" stroke-width="1.1"/>
<ellipse cx="383.5" cy="329.1" rx="5.3" ry="6.1" fill="#fff" stroke="#111" stroke-width="1.1"/>
<ellipse cx="382.2" cy="329.1" rx="4.0" ry="5.9" fill="#3a3a3a"/>
<line x1="379.5" y1="329.1" x2="383.8" y2="329.1" stroke="#ddd" stroke-width="1.1"/>
<rect x="335.2" y="387.8" width="31.8" height="4.6" fill="#fff" stroke="#111" stroke-width="1.2"/>
<path d="M367.0,388.5 L375.0,388.5 L375.0,391.5 L367.0,391.5" stroke="#111" stroke-width="1.0" fill="none" />
<path d="M340,396 L341.3,460 Q341.6,466.8 348,467 L357.5,467 Q364.2,466.8 364.4,460 L363.6,396" fill="#fff" stroke="#111" stroke-width="1.2"/>
<rect x="339.6" y="392.4" width="24.2" height="3.7" fill="#fff" stroke="#111" stroke-width="1.0"/>
<path d="M339.8,396.2 L363.6,396.2" stroke="#111" stroke-width="1.7" fill="none" />
<path d="M341.5,463.2 C343.2,463.1 348.2,462.7 352.0,462.6 C355.8,462.5 362.2,462.8 364.2,462.8" stroke="#111" stroke-width="0.8" fill="none" />
<path d="M371.2,456 Q371.5,453.4 375,453.3 L381.5,454.7 L381.4,454.7 L382.5,454.3 L383.6,454.0 L384.8,453.8 L386.0,453.6 L387.3,453.5 L388.6,453.5 L390.0,453.6 L391.4,453.8 L392.9,454.1 L394.4,454.4 L396.0,454.9 L397.5,455.4 L399.1,456.0 L400.8,456.6 L402.4,457.4 L404.1,458.2 L405.8,459.1 L407.4,460.1 L409.1,461.1 L410.8,462.2 L412.5,463.4 L414.2,464.7 L415.8,465.9 L417.5,467.3 L419.1,468.7 L420.7,470.1 L422.3,471.6 L423.8,473.2 L425.3,474.7 L426.8,476.3 L428.2,478.0 L429.6,479.6 L430.9,481.3 L432.1,483.0 L433.4,484.7 L434.5,486.4 L435.6,488.1 L436.6,489.9 L437.6,491.6 L438.4,493.3 L439.2,495.0 L440.0,496.7 L440.6,498.3 L441.2,500.0 L441.7,501.6 L442.1,503.1 L442.5,504.7 L442.7,506.2 L442.9,507.6 L443.0,509.1 L443.0,510.4 L443.0,511.7 L442.8,513.0 L442.6,514.2 L442.2,515.3 L441.8,516.3 L441.3,517.3 L440.8,518.3 L440.1,519.1 L439.4,519.9 L421.7,538.6 L380,520 L360,470 Z" fill="#fff" stroke="none"/>
<path d="M371.2,456 Q371.5,453.4 375,453.3 L381.5,454.7 L381.4,454.7 L382.5,454.3 L383.6,454.0 L384.8,453.8 L386.0,453.6 L387.3,453.5 L388.6,453.5 L390.0,453.6 L391.4,453.8 L392.9,454.1 L394.4,454.4 L396.0,454.9 L397.5,455.4 L399.1,456.0 L400.8,456.6 L402.4,457.4 L404.1,458.2 L405.8,459.1 L407.4,460.1 L409.1,461.1 L410.8,462.2 L412.5,463.4 L414.2,464.7 L415.8,465.9 L417.5,467.3 L419.1,468.7 L420.7,470.1 L422.3,471.6 L423.8,473.2 L425.3,474.7 L426.8,476.3 L428.2,478.0 L429.6,479.6 L430.9,481.3 L432.1,483.0 L433.4,484.7 L434.5,486.4 L435.6,488.1 L436.6,489.9 L437.6,491.6 L438.4,493.3 L439.2,495.0 L440.0,496.7 L440.6,498.3 L441.2,500.0 L441.7,501.6 L442.1,503.1 L442.5,504.7 L442.7,506.2 L442.9,507.6 L443.0,509.1 L443.0,510.4 L443.0,511.7 L442.8,513.0 L442.6,514.2 L442.2,515.3 L441.8,516.3 L441.3,517.3 L440.8,518.3 L440.1,519.1 L439.4,519.9 L421.7,538.6" stroke="#111" stroke-width="1.2" fill="none" />
<path d="M372.5,458.5 L356.5,476 L361.9,478.8 L382.7,456.2 Z" fill="#fff" stroke="#111" stroke-width="1.1"/>
<path d="M376.0,458.5 L359.5,477.5" stroke="#111" stroke-width="0.8" fill="none" />
<ellipse cx="371.4" cy="457.3" rx="3.6" ry="2.6" transform="rotate(-40 371.4 457.3)" fill="#fff" stroke="#111" stroke-width="1.1"/>
<path d="M355.5,470.0 L360.0,466.5 L363.0,468.0 L358.5,472.0" stroke="#111" stroke-width="0.9" fill="none" />
<ellipse cx="370.7" cy="526.9" rx="76.5" ry="33.5" transform="rotate(44.3 370.7 526.9)" fill="#fff" stroke="#111" stroke-width="1.25"/>
<path d="M316.9,490.9 L316.5,488.7 L316.3,486.6 L316.2,484.6 L316.3,482.8 L316.6,481.1 L317.0,479.4 L317.5,477.9 L318.2,476.6 L319.0,475.4 L320.0,474.3 L321.1,473.3 L322.3,472.5 L323.7,471.9 L325.2,471.4 L326.8,471.0 L328.5,470.8 L330.4,470.7 L332.4,470.8 L334.4,471.1 L336.6,471.5 L338.9,472.0 L341.2,472.7 L343.7,473.5 L346.2,474.5 L348.7,475.6 L351.4,476.9 L354.1,478.2 L356.8,479.8 L359.5,481.4 L362.3,483.2 L365.2,485.1 L368.0,487.0 L370.8,489.1 L373.7,491.3 L376.5,493.6 L379.3,496.0 L382.1,498.5 L384.9,501.0 L387.6,503.6 L390.3,506.3 L392.9,509.0 L395.4,511.8 L397.9,514.6 L400.3,517.4 L402.7,520.3 L404.9,523.1 L407.1,526.0 L409.1,528.9 L411.0,531.7 L412.9,534.6 L414.6,537.4 L416.2,540.2 L417.7,543.0 L419.0,545.7 L420.2,548.3 L421.3,550.9 L422.2,553.4 L423.0,555.9 L423.6,558.3 L424.1,560.5 L424.5,562.7 L424.7,564.8 L424.8,566.8 L424.7,568.6 L424.4,570.3 L424.0,572.0 L423.5,573.5 L422.8,574.8 L422.0,576.0 L421.0,577.1 L419.9,578.1 L418.7,578.9 L417.3,579.5 L415.8,580.0 L414.2,580.4 L412.5,580.6 L410.6,580.7 L408.6,580.6 L406.6,580.3 L404.4,579.9" fill="none" stroke="#111" stroke-width="1.0"/>
<ellipse cx="379" cy="490" rx="3.2" ry="2.6" fill="#fff" stroke="#111" stroke-width="1"/>
<path d="M314.6,482.8 L315.1,481.6 L315.7,480.5 L316.5,479.5 L317.3,478.6 L318.3,477.8 L319.3,477.1 L320.4,476.5 L321.7,476.0 L323.0,475.6 L324.4,475.3 L325.9,475.1 L327.5,475.1 L329.1,475.1 L330.8,475.3 L332.6,475.5 L334.5,475.9 L336.5,476.4 L338.5,476.9 L340.5,477.6 L342.6,478.4 L344.8,479.3 L347.0,480.3 L349.2,481.4 L351.5,482.6 L353.8,483.9 L356.1,485.2 L358.5,486.7 L360.8,488.2 L363.2,489.9 L365.6,491.6 L368.0,493.3 L370.4,495.2 L372.8,497.1 L375.2,499.1 L377.5,501.1 L379.9,503.2 L382.2,505.4 L384.5,507.6 L386.7,509.8 L388.9,512.1 L391.1,514.4 L393.2,516.8 L395.2,519.1 L397.3,521.5 L399.2,523.9 L401.1,526.4 L402.9,528.8 L404.6,531.2 L406.3,533.6 L407.9,536.0 L409.4,538.4 L410.8,540.8 L412.1,543.2 L413.4,545.5 L414.5,547.8 L415.6,550.1 L416.5,552.3 L417.4,554.5 L418.2,556.6 L418.8,558.7 L419.4,560.7 L419.8,562.6 L420.2,564.5 L420.4,566.3 L420.5,568.0 L420.5,569.7 L420.5,571.3 L420.3,572.8 L420.0,574.2 L419.6,575.5 L419.0,576.7 L418.4,577.8 L417.7,578.9 L416.9,579.8 L416.0,580.6 L415.0,581.4 L413.8,582.0 L412.6,582.5 L411.3,582.9 L410.0,583.2" fill="none" stroke="#111" stroke-width="1.2"/>
<path d="M312.0,489.6 C311.1,489.9 307.8,490.4 306.3,491.5 C304.9,492.6 303.9,494.1 303.3,496.0 C302.7,497.9 302.7,500.8 302.7,502.8 C302.7,504.9 303.0,506.3 303.5,508.3 C304.0,510.3 304.8,512.4 305.8,514.6 C306.9,516.8 308.5,519.5 309.8,521.7 C311.1,523.9 312.3,525.9 313.7,528.0 C315.1,530.1 316.7,531.9 318.4,534.2 C320.1,536.6 321.9,539.4 323.9,542.1 C325.9,544.8 328.2,547.8 330.5,550.5 C332.8,553.2 335.2,556.1 337.7,558.6 C340.2,561.1 342.4,563.1 345.3,565.6 C348.2,568.1 352.2,571.3 355.0,573.5 C357.8,575.7 359.8,577.2 362.2,578.8 C364.6,580.4 366.8,581.9 369.1,583.2 C371.4,584.5 373.6,585.7 376.0,586.8 C378.4,587.9 380.6,588.9 383.3,589.6 C386.0,590.4 389.2,591.0 392.0,591.3 C394.8,591.6 397.6,591.7 400.0,591.5 C402.4,591.3 404.6,590.7 406.5,590.0 C408.4,589.3 409.9,588.4 411.5,587.1 C413.1,585.9 415.2,583.3 416.0,582.5 L412.0,566.0 C410.9,565.4 407.2,564.5 405.5,562.5 C403.8,560.5 403.1,557.4 401.5,554.0 C399.9,550.6 398.2,546.3 396.0,542.1 C393.8,537.9 391.3,533.0 388.5,529.0 C385.7,525.0 382.9,521.7 379.1,518.2 C375.3,514.7 369.7,510.8 365.9,508.2 C362.1,505.6 359.6,504.3 356.5,502.6 C353.4,500.9 350.1,499.5 347.0,498.2 C343.9,496.9 340.9,495.8 337.7,494.6 C334.5,493.4 331.1,492.0 328.0,491.2 C324.9,490.4 320.3,489.9 318.8,489.6 Z" fill="#fff" stroke="#111" stroke-width="1.25"/>
<path d="M405.5,562.5 C404.8,561.1 403.1,557.4 401.5,554.0 C399.9,550.6 398.2,546.3 396.0,542.1 C393.8,537.9 391.3,533.0 388.5,529.0 C385.7,525.0 382.9,521.7 379.1,518.2 C375.3,514.7 369.7,510.8 365.9,508.2 C362.1,505.6 359.6,504.3 356.5,502.6 C353.4,500.9 350.1,499.5 347.0,498.2 C343.9,496.9 340.9,495.8 337.7,494.6 C334.5,493.4 331.1,492.0 328.0,491.2 C324.9,490.4 320.3,489.9 318.8,489.6" fill="none" stroke="#111" stroke-width="1.9"/>
<path d="M400.3,555.6 C399.4,553.6 397.0,547.9 394.8,543.7 C392.6,539.5 390.1,534.6 387.3,530.6 C384.5,526.6 381.7,523.3 377.9,519.8 C374.1,516.3 368.5,512.4 364.7,509.8 C360.9,507.2 358.4,505.9 355.3,504.2 C352.2,502.5 348.9,501.1 345.8,499.8 C342.7,498.5 339.7,497.4 336.5,496.2 C333.3,495.0 328.4,493.4 326.8,492.8" fill="none" stroke="#111" stroke-width="0.9"/>
<clipPath id="opclip"><ellipse cx="356.7" cy="540.6" rx="40.0" ry="16.1" transform="rotate(42.1 356.7 540.6)" /></clipPath>
<ellipse cx="356.7" cy="540.6" rx="40.0" ry="16.1" transform="rotate(42.1 356.7 540.6)" fill="#fff" stroke="#111" stroke-width="1.3"/>
<path d="M396.5,553.0 L396.0,553.9 L395.5,554.8 L394.9,555.5 L394.2,556.1 L393.4,556.7 L392.5,557.1 L391.5,557.5 L390.4,557.7 L389.3,557.8 L388.0,557.9 L386.7,557.8 L385.3,557.6 L383.8,557.3 L382.3,556.9 L380.7,556.4 L379.1,555.9 L377.4,555.2 L375.7,554.4 L373.9,553.5 L372.1,552.6 L370.3,551.5 L368.5,550.4 L366.7,549.2 L364.9,547.9 L363.0,546.6 L361.2,545.1 L359.4,543.7 L357.6,542.1 L355.8,540.5 L354.1,538.9 L352.4,537.2 L350.8,535.5 L349.2,533.8 L347.6,532.0 L346.1,530.3 L344.7,528.5 L343.4,526.7 L342.1,524.9 L340.9,523.1 L339.8,521.3 L338.8,519.6 L337.9,517.9 L337.0,516.2 L336.3,514.5 L335.6,512.9 L335.1,511.4 L334.7,509.8 L334.3,508.4 L334.1,507.0 L334.0,505.7 L334.0,504.4 L334.0,503.3 L334.2,502.2 L334.5,501.2 L335.0,500.3 L335.5,499.4 L336.1,498.7 L336.8,498.1 L337.6,497.5 L338.5,497.1" fill="none" stroke="#111" stroke-width="1.1" clip-path="url(#opclip)"/>
<path d="M390.4,556.4 L388.9,556.4 L387.4,556.3 L385.8,556.0 L384.1,555.6 L382.3,555.0 L380.4,554.4 L378.5,553.6 L376.5,552.6 L374.5,551.6 L372.4,550.4 L370.3,549.2 L368.2,547.8 L366.1,546.3 L364.0,544.7 L361.9,543.1 L359.8,541.3 L357.8,539.5 L355.8,537.6 L353.9,535.7 L352.0,533.7 L350.2,531.7 L348.4,529.7 L346.8,527.7 L345.2,525.6 L343.7,523.5 L342.4,521.5 L341.1,519.5 L340.0,517.5 L339.0,515.5 L338.1,513.6 L337.3,511.8 L336.7,510.0 L336.2,508.3 L335.9,506.7 L335.7,505.1 L335.6,503.7 L335.7,502.3 L335.9,501.1 L336.3,500.0 L336.8,499.0" fill="none" stroke="#111" stroke-width="0.8" clip-path="url(#opclip)"/>
<rect x="341.0" y="536.3" width="5" height="8" transform="rotate(-50.0 343.5 540.3)" fill="#fff" stroke="#111" stroke-width="1.3"/>
<rect x="359.9" y="553.4" width="5" height="8" transform="rotate(-50.0 362.4 557.4)" fill="#fff" stroke="#111" stroke-width="1.3"/>
<path d="M356.5,519.5 l2.5,1.5 l-1,2.5 l-2.5,-1.5z" fill="#fff" stroke="#111" stroke-width="0.9"/>
<path d="M376.0,533.0 l2.5,1.5 l-1,2.5 l-2.5,-1.5z" fill="#fff" stroke="#111" stroke-width="0.9"/>
<ellipse cx="327.5" cy="501.6" rx="5.3" ry="3.0" transform="rotate(38.0 327.5 501.6)" fill="#cfcfcf" stroke="#111" stroke-width="1.6"/>
<ellipse cx="328.3" cy="501.0" rx="3.5" ry="1.8" transform="rotate(38.0 328.3 501.0)" fill="#fff" stroke="none"/>
<ellipse cx="374.0" cy="529.2" rx="5.4" ry="3.1" transform="rotate(38.0 374.0 529.2)" fill="#cfcfcf" stroke="#111" stroke-width="1.6"/>
<ellipse cx="374.8" cy="528.6" rx="3.6" ry="1.9" transform="rotate(38.0 374.8 528.6)" fill="#fff" stroke="none"/>
<ellipse cx="339.2" cy="552.5" rx="5.0" ry="3.0" transform="rotate(38.0 339.2 552.5)" fill="#cfcfcf" stroke="#111" stroke-width="1.6"/>
<ellipse cx="340.0" cy="551.9" rx="3.2" ry="1.8" transform="rotate(38.0 340.0 551.9)" fill="#fff" stroke="none"/>
<ellipse cx="386.0" cy="579.8" rx="5.0" ry="3.0" transform="rotate(38.0 386.0 579.8)" fill="#cfcfcf" stroke="#111" stroke-width="1.6"/>
<ellipse cx="386.8" cy="579.2" rx="3.2" ry="1.8" transform="rotate(38.0 386.8 579.2)" fill="#fff" stroke="none"/>
<path d="M316.0,479.0 L325.0,475.5 L329.0,489.5 L320.0,492.5Z" fill="#fff" stroke="#111" stroke-width="1.1"/>
<path d="M351.0,486.2 L364.5,491.5 L355.7,499.7 L343.2,495.0Z" fill="#fff" stroke="#111" stroke-width="1.1"/>
<path d="M346.8,491.6 L361.5,494.3 M352.6,489.3 L353.8,496.8 M356,490 L351,496" stroke="#111" stroke-width="1" fill="none"/>
<path d="M350.2,487.3 L353.6,488.6 L352.4,491.5 L348.3,490.1 Z" fill="#222"/>
<path d="M385.6,510.2 L394.9,518.5 L382.3,530.6 L374.6,522.1Z" fill="#fff" stroke="#111" stroke-width="1.1"/>
<path d="M378.4,519.0 L386.1,526.7" stroke="#111" stroke-width="1.0" fill="none" />
<path d="M406.0,560.0 L415.0,553.5 L419.0,565.0 L411.0,570.0Z" fill="#fff" stroke="#111" stroke-width="1.1"/>
<path d="M410,562 L416,567 M414.5,559 L411,566" stroke="#111" stroke-width="0.9"/>
<path d="M316.5,514.2 L320.8,515.8 L322.3,520.8 L318.6,519.6 Z" fill="#111"/>
<path d="M318.2,520.5 Q318.8,526.5 326,528.6" fill="none" stroke="#111" stroke-width="1.2"/>
<path d="M304.6,509.2 L307.2,508.2 L308.8,512.5 L306.2,513.6 Z" fill="#fff" stroke="#111" stroke-width="1.0"/>
<path d="M388.5,553.5 L392.5,552 L396.5,557.5 L395.5,564.5 L391.5,565.5 L390.5,559 Z" fill="#fff" stroke="#111" stroke-width="1.1"/>
<path d="M391,555.5 L394,560.5" stroke="#111" stroke-width="1.3"/>
<path d="M233.3,566.6 L251.9,543.2 L253.3,542.4 L254.7,541.7 L256.3,541.1 L258.0,540.7 L259.8,540.4 L261.7,540.2 L263.7,540.1 L265.8,540.2 L268.0,540.4 L270.3,540.7 L272.6,541.2 L275.1,541.8 L277.6,542.5 L280.1,543.3 L282.7,544.3 L285.4,545.4 L288.1,546.6 L290.8,547.9 L293.6,549.3 L296.3,550.8 L299.1,552.4 L301.9,554.2 L304.7,556.0 L307.5,557.9 L310.3,559.9 L313.0,562.0 L315.7,564.1 L318.4,566.4 L321.0,568.6 L323.6,571.0 L326.1,573.4 L328.6,575.8 L330.9,578.3 L333.2,580.8 L335.5,583.3 L337.6,585.9 L339.6,588.5 L341.6,591.0 L343.4,593.6 L345.2,596.2 L346.8,598.7 L348.3,601.3 L349.6,603.8 L350.9,606.3 L352.0,608.7 L353.0,611.1 L353.9,613.4 L354.6,615.7 L355.2,617.9 L355.7,620.1 L356.0,622.2 L356.1,624.1 L356.2,626.1 L356.1,627.9 L355.8,629.6 L355.4,631.2 L354.9,632.8 L354.2,634.2 L353.4,635.5 L352.4,636.7 L338.4,655.4 L328.8,657.9 L328.8,657.9 L327.9,658.8 L326.8,659.5 L325.7,660.2 L324.4,660.7 L323.0,661.1 L321.6,661.4 L320.0,661.6 L318.3,661.7 L316.6,661.6 L314.7,661.5 L312.8,661.2 L310.8,660.8 L308.8,660.2 L306.6,659.6 L304.4,658.8 L302.2,658.0 L299.9,657.0 L297.6,655.9 L295.2,654.8 L292.8,653.5 L290.3,652.1 L287.9,650.6 L285.4,649.0 L282.9,647.4 L280.5,645.6 L278.0,643.8 L275.5,641.9 L273.1,640.0 L270.7,637.9 L268.3,635.9 L265.9,633.7 L263.6,631.5 L261.3,629.3 L259.1,627.0 L256.9,624.7 L254.8,622.4 L252.8,620.0 L250.8,617.7 L248.9,615.3 L247.1,612.9 L245.4,610.5 L243.8,608.1 L242.2,605.8 L240.8,603.5 L239.5,601.1 L238.3,598.9 L237.1,596.6 L236.1,594.4 L235.3,592.3 L234.5,590.2 L233.8,588.1 L233.3,586.1 L232.9,584.2 L232.6,582.4 L232.4,580.6 L232.4,579.0 L232.4,577.4 L232.6,575.9 L233.0,574.5 L233.4,573.2 Z" fill="#fff" stroke="#111" stroke-width="1.25"/>
<path d="M236.8,562.8 L237.4,561.2 L238.1,559.7 L239.1,558.4 L240.1,557.2 L241.4,556.2 L242.7,555.4 L244.3,554.7 L245.9,554.2 L247.8,553.8 L249.7,553.6 L251.8,553.6 L254.0,553.7 L256.3,554.0 L258.7,554.5 L261.2,555.2 L263.8,556.0 L266.5,556.9 L269.2,558.1 L272.0,559.3 L274.9,560.8 L277.8,562.3 L280.8,564.0 L283.8,565.9 L286.8,567.8 L289.8,569.9 L292.8,572.1 L295.8,574.4 L298.8,576.9 L301.7,579.4 L304.7,582.0 L307.5,584.6 L310.3,587.4 L313.1,590.2 L315.7,593.0 L318.3,595.9 L320.8,598.8 L323.2,601.8 L325.5,604.7 L327.6,607.7 L329.7,610.7 L331.6,613.6 L333.4,616.5 L335.0,619.4 L336.5,622.3 L337.9,625.1 L339.1,627.8 L340.1,630.5 L341.0,633.1 L341.7,635.6 L342.2,638.0 L342.6,640.3 L342.8,642.5 L342.9,644.6 L342.7,646.5 L342.4,648.4 L342.0,650.1 L341.3,651.6 L340.5,653.0 L339.6,654.3 L338.4,655.4 L330.4,658.6 L331.4,657.6 L332.3,656.5 L333.0,655.3 L333.6,654.0 L334.1,652.6 L334.4,651.1 L334.6,649.4 L334.7,647.7 L334.6,645.8 L334.4,643.9 L334.1,641.9 L333.7,639.8 L333.1,637.7 L332.4,635.5 L331.5,633.2 L330.5,630.8 L329.4,628.5 L328.2,626.0 L326.9,623.6 L325.5,621.1 L323.9,618.6 L322.2,616.0 L320.5,613.5 L318.6,610.9 L316.7,608.4 L314.7,605.9 L312.6,603.4 L310.4,600.9 L308.1,598.4 L305.8,596.0 L303.4,593.6 L301.0,591.3 L298.6,589.0 L296.1,586.8 L293.5,584.7 L291.0,582.6 L288.4,580.7 L285.8,578.8 L283.2,577.0 L280.7,575.3 L278.1,573.7 L275.5,572.2 L273.0,570.8 L270.5,569.5 L268.1,568.3 L265.7,567.3 L263.3,566.4 L261.0,565.6 L258.8,564.9 L256.6,564.3 L254.5,563.9 L252.5,563.6 L250.6,563.5 L248.7,563.4 L247.0,563.6 L245.4,563.8 L243.8,564.2 L242.4,564.7 L241.1,565.3 L239.9,566.0 L235.2,566.2 Z" fill="#1a1a1a" stroke="#111" stroke-width="0.9"/>
<line x1="241.0" y1="558.2" x2="240.2" y2="564.1" stroke="#bbb" stroke-width="0.85"/>
<line x1="242.2" y1="557.4" x2="241.4" y2="563.3" stroke="#bbb" stroke-width="0.85"/>
<line x1="243.6" y1="556.8" x2="242.7" y2="562.7" stroke="#bbb" stroke-width="0.85"/>
<line x1="245.1" y1="556.3" x2="244.1" y2="562.2" stroke="#bbb" stroke-width="0.85"/>
<line x1="246.7" y1="555.9" x2="245.7" y2="561.8" stroke="#bbb" stroke-width="0.85"/>
<line x1="248.4" y1="555.7" x2="247.3" y2="561.6" stroke="#bbb" stroke-width="0.85"/>
<line x1="250.2" y1="555.6" x2="249.0" y2="561.5" stroke="#bbb" stroke-width="0.85"/>
<line x1="252.1" y1="555.6" x2="250.9" y2="561.5" stroke="#bbb" stroke-width="0.85"/>
<line x1="254.1" y1="555.8" x2="252.8" y2="561.7" stroke="#bbb" stroke-width="0.85"/>
<line x1="256.2" y1="556.1" x2="254.8" y2="561.9" stroke="#bbb" stroke-width="0.85"/>
<line x1="258.4" y1="556.5" x2="256.9" y2="562.4" stroke="#bbb" stroke-width="0.85"/>
<line x1="260.6" y1="557.1" x2="259.1" y2="562.9" stroke="#bbb" stroke-width="0.85"/>
<line x1="263.0" y1="557.8" x2="261.4" y2="563.6" stroke="#bbb" stroke-width="0.85"/>
<line x1="265.4" y1="558.6" x2="263.7" y2="564.4" stroke="#bbb" stroke-width="0.85"/>
<line x1="267.9" y1="559.6" x2="266.1" y2="565.3" stroke="#bbb" stroke-width="0.85"/>
<line x1="270.4" y1="560.7" x2="268.5" y2="566.4" stroke="#bbb" stroke-width="0.85"/>
<line x1="272.9" y1="561.9" x2="271.0" y2="567.5" stroke="#bbb" stroke-width="0.85"/>
<line x1="275.6" y1="563.3" x2="273.5" y2="568.8" stroke="#bbb" stroke-width="0.85"/>
<line x1="278.2" y1="564.8" x2="276.0" y2="570.2" stroke="#bbb" stroke-width="0.85"/>
<line x1="280.9" y1="566.3" x2="278.6" y2="571.7" stroke="#bbb" stroke-width="0.85"/>
<line x1="283.6" y1="568.0" x2="281.2" y2="573.3" stroke="#bbb" stroke-width="0.85"/>
<line x1="286.3" y1="569.8" x2="283.8" y2="575.0" stroke="#bbb" stroke-width="0.85"/>
<line x1="289.0" y1="571.7" x2="286.4" y2="576.8" stroke="#bbb" stroke-width="0.85"/>
<line x1="291.7" y1="573.7" x2="289.0" y2="578.7" stroke="#bbb" stroke-width="0.85"/>
<line x1="294.4" y1="575.7" x2="291.6" y2="580.7" stroke="#bbb" stroke-width="0.85"/>
<line x1="297.1" y1="577.9" x2="294.1" y2="582.8" stroke="#bbb" stroke-width="0.85"/>
<line x1="299.8" y1="580.1" x2="296.7" y2="584.9" stroke="#bbb" stroke-width="0.85"/>
<line x1="302.4" y1="582.4" x2="299.2" y2="587.1" stroke="#bbb" stroke-width="0.85"/>
<line x1="305.0" y1="584.8" x2="301.7" y2="589.4" stroke="#bbb" stroke-width="0.85"/>
<line x1="307.5" y1="587.2" x2="304.2" y2="591.7" stroke="#bbb" stroke-width="0.85"/>
<line x1="310.0" y1="589.7" x2="306.6" y2="594.1" stroke="#bbb" stroke-width="0.85"/>
<line x1="312.5" y1="592.3" x2="308.9" y2="596.6" stroke="#bbb" stroke-width="0.85"/>
<line x1="314.9" y1="594.8" x2="311.2" y2="599.0" stroke="#bbb" stroke-width="0.85"/>
<line x1="317.2" y1="597.4" x2="313.4" y2="601.5" stroke="#bbb" stroke-width="0.85"/>
<line x1="319.4" y1="600.1" x2="315.6" y2="604.1" stroke="#bbb" stroke-width="0.85"/>
<line x1="321.6" y1="602.7" x2="317.6" y2="606.6" stroke="#bbb" stroke-width="0.85"/>
<line x1="323.7" y1="605.4" x2="319.6" y2="609.2" stroke="#bbb" stroke-width="0.85"/>
<line x1="325.6" y1="608.1" x2="321.5" y2="611.7" stroke="#bbb" stroke-width="0.85"/>
<line x1="327.5" y1="610.7" x2="323.3" y2="614.3" stroke="#bbb" stroke-width="0.85"/>
<line x1="329.3" y1="613.4" x2="325.0" y2="616.8" stroke="#bbb" stroke-width="0.85"/>
<line x1="331.0" y1="616.0" x2="326.6" y2="619.4" stroke="#bbb" stroke-width="0.85"/>
<line x1="332.5" y1="618.7" x2="328.1" y2="621.9" stroke="#bbb" stroke-width="0.85"/>
<line x1="333.9" y1="621.3" x2="329.4" y2="624.4" stroke="#bbb" stroke-width="0.85"/>
<line x1="335.3" y1="623.8" x2="330.7" y2="626.9" stroke="#bbb" stroke-width="0.85"/>
<line x1="336.5" y1="626.3" x2="331.8" y2="629.3" stroke="#bbb" stroke-width="0.85"/>
<line x1="337.5" y1="628.8" x2="332.8" y2="631.6" stroke="#bbb" stroke-width="0.85"/>
<line x1="338.5" y1="631.2" x2="333.7" y2="634.0" stroke="#bbb" stroke-width="0.85"/>
<line x1="339.3" y1="633.5" x2="334.5" y2="636.2" stroke="#bbb" stroke-width="0.85"/>
<line x1="339.9" y1="635.8" x2="335.1" y2="638.4" stroke="#bbb" stroke-width="0.85"/>
<line x1="340.5" y1="638.0" x2="335.6" y2="640.5" stroke="#bbb" stroke-width="0.85"/>
<line x1="340.9" y1="640.1" x2="336.0" y2="642.6" stroke="#bbb" stroke-width="0.85"/>
<line x1="341.1" y1="642.1" x2="336.2" y2="644.5" stroke="#bbb" stroke-width="0.85"/>
<line x1="341.2" y1="644.1" x2="336.3" y2="646.4" stroke="#bbb" stroke-width="0.85"/>
<line x1="341.2" y1="645.9" x2="336.3" y2="648.2" stroke="#bbb" stroke-width="0.85"/>
<line x1="341.1" y1="647.7" x2="336.1" y2="649.8" stroke="#bbb" stroke-width="0.85"/>
<line x1="340.8" y1="649.3" x2="335.8" y2="651.4" stroke="#bbb" stroke-width="0.85"/>
<line x1="340.3" y1="650.8" x2="335.4" y2="652.9" stroke="#bbb" stroke-width="0.85"/>
<line x1="339.7" y1="652.2" x2="334.8" y2="654.2" stroke="#bbb" stroke-width="0.85"/>
<line x1="339.0" y1="653.5" x2="334.1" y2="655.5" stroke="#bbb" stroke-width="0.85"/>
<line x1="338.2" y1="654.7" x2="333.3" y2="656.6" stroke="#bbb" stroke-width="0.85"/>
<ellipse cx="282.2" cy="613.8" rx="64.2" ry="25.7" transform="rotate(43.4 282.2 613.8)" fill="#fff" stroke="#111" stroke-width="1.3"/>
<path d="M165.4,622.6 L167.2,621.1 L169.3,619.9 L171.7,619.1 L174.5,618.6 L177.5,618.4 L180.8,618.7 L184.3,619.2 L188.0,620.1 L192.0,621.4 L196.2,623.0 L200.5,624.9 L204.9,627.1 L209.4,629.7 L214.0,632.5 L218.7,635.5 L223.4,638.9 L228.0,642.4 L232.6,646.2 L237.2,650.1 L241.6,654.2 L245.9,658.4 L250.1,662.8 L254.1,667.2 L257.9,671.6 L261.4,676.1 L264.8,680.6 L267.8,685.0 L270.6,689.4 L273.0,693.8 L275.2,697.9 L277.0,702.0 L278.4,705.9 L279.5,709.6 L280.3,713.1 L280.7,716.4 L280.7,719.4 L280.4,722.1 L279.6,724.6 L278.6,726.8 L277.2,728.6 L230.2,777.2 L228.4,778.7 L226.3,779.9 L223.9,780.7 L221.1,781.2 L218.1,781.4 L214.8,781.1 L211.3,780.6 L207.6,779.7 L203.6,778.4 L199.4,776.8 L195.1,774.9 L190.7,772.7 L186.2,770.1 L181.6,767.3 L176.9,764.3 L172.2,760.9 L167.6,757.4 L163.0,753.6 L158.4,749.7 L154.0,745.6 L149.7,741.4 L145.5,737.0 L141.5,732.6 L137.7,728.2 L134.2,723.7 L130.8,719.2 L127.8,714.8 L125.0,710.4 L122.6,706.0 L120.4,701.9 L118.6,697.8 L117.2,693.9 L116.1,690.2 L115.3,686.7 L114.9,683.4 L114.9,680.4 L115.2,677.7 L116.0,675.2 L117.0,673.0 L118.4,671.2 Z" fill="#fff" stroke="#111" stroke-width="1.3"/>
<ellipse cx="174.3" cy="724.2" rx="77.0" ry="29.5" transform="rotate(43.5 174.3 724.2)" fill="#fff" stroke="#111" stroke-width="1.4"/>
<ellipse cx="174.3" cy="724.2" rx="74.9" ry="27.5" transform="rotate(43.5 174.3 724.2)" fill="none" stroke="#111" stroke-width="1.0"/>
<path d="M134.0,670.4 C134.1,672.6 133.7,679.6 134.5,683.8 C135.3,688.0 136.9,691.5 138.8,695.5 C140.7,699.5 141.9,702.3 146.0,707.5 C150.1,712.7 156.2,720.4 163.1,726.7 C170.0,733.0 179.4,740.0 187.6,745.1 C195.8,750.2 205.2,754.4 212.0,757.3 C218.8,760.2 225.7,761.5 228.4,762.4" stroke="#111" stroke-width="1.1" fill="none" />
<path d="M147.4,672.8 C147.9,674.6 148.7,679.9 150.5,683.8 C152.3,687.7 154.6,691.9 158.0,696.0 C161.4,700.1 165.6,703.5 171.2,708.3 C176.8,713.1 184.8,719.6 191.6,724.7 C198.4,729.8 206.1,734.9 212.0,739.0 C217.9,743.1 224.8,747.5 227.3,749.2" stroke="#111" stroke-width="1.1" fill="none" />
</svg>
</body></html>
